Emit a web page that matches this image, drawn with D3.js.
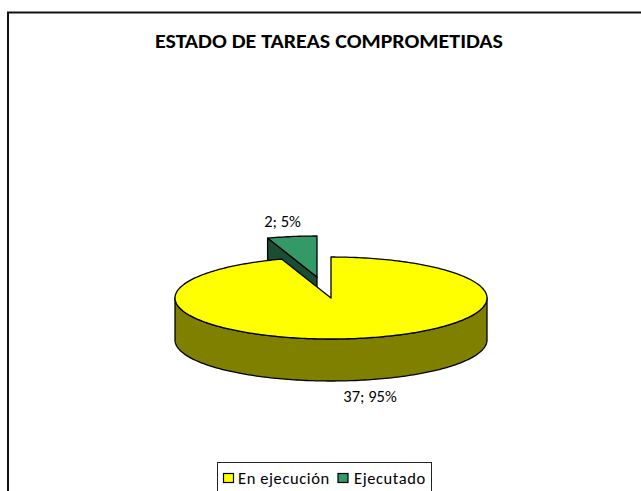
<!DOCTYPE html>
<html><head><meta charset="utf-8">
<script src="https://cdn.jsdelivr.net/npm/d3@7"></script>
<style>html,body{margin:0;padding:0;background:#fff}svg{display:block}text{font-family:Carlito,"Liberation Sans","Open Sans",sans-serif;fill:#000}</style>
</head><body><svg id="c" width="641" height="491"></svg>
<script>
const titleText = "ESTADO DE TAREAS COMPROMETIDAS";
const categories = ["En ejecución", "Ejecutado"];
const values = [37, 2];
const percents = ["95%", "5%"];
const topColors = ["#ffff00", "#339966"];
const sideColors = ["#808000", "#1a4d33"];

const W = 641, H = 491;
const cx = 331, cy = 298, rx = 156, ry = 41, depth = 42;
const explode = [[0, 0], [-14, -21]];
const svg = d3.select("#c");
svg.append("path").attr("d","M8,491V12.5H641").attr("fill","none").attr("stroke","#111").attr("stroke-width",2);
svg.append("text").attr("x",329).attr("y",48).attr("text-anchor","middle").attr("font-size",20).attr("font-weight","bold").attr("textLength",348).attr("lengthAdjust","spacingAndGlyphs").text(titleText);

const slices = d3.pie().sort(null)(values);
const xs = d3.scaleLinear().domain([-1,1]).range([-rx,rx]);
const ys = d3.scaleLinear().domain([-1,1]).range([-ry,ry]);
const pt = (a,i,dz=0)=>[cx+explode[i][0]+xs(Math.sin(a)), cy+explode[i][1]+ys(-Math.cos(a))+dz];
const arcPts = (a0,a1,i,dz=0)=>{const n=Math.max(2,Math.ceil(Math.abs(a1-a0)/0.02));return d3.range(n+1).map(k=>pt(a0+(a1-a0)*k/n,i,dz));};
const line = d3.line().curve(d3.curveLinear);
const stroke = g=>g.attr("stroke","#000").attr("stroke-width",1.3).attr("stroke-linejoin","round");
const centre = (i,dz=0)=>[cx+explode[i][0],cy+explode[i][1]+dz];

// exploded small slice first, then the large one overlaps it
[1,0].forEach(i=>{
  const s = slices[i], g = svg.append("g");
  if(i===1){
    const e = pt(s.startAngle,i);
    g.append("path").attr("d",line([centre(i),e,[e[0],e[1]+depth],centre(i,depth)])+"Z").attr("fill",sideColors[i]).call(stroke);
  } else {
    const a = arcPts(Math.PI/2,3*Math.PI/2,i), b = arcPts(3*Math.PI/2,Math.PI/2,i,depth);
    g.append("path").attr("d",line(a.concat(b))+"Z").attr("fill",sideColors[i]).call(stroke);
  }
  g.append("path").attr("d",line([centre(i),...arcPts(s.startAngle,s.endAngle,i)])+"Z").attr("fill",topColors[i]).call(stroke);
});

const lab = (i,x,y)=>svg.append("text").attr("x",x).attr("y",y).attr("text-anchor","middle").attr("font-size",16.5).text(values[i]+"; "+percents[i]);
lab(0,370,402); lab(1,282.5,227);

// legend
const lg = svg.append("g");
lg.append("rect").attr("x",217.5).attr("y",462.5).attr("width",214).attr("height",40).attr("fill","#fff").attr("stroke","#222");
const lx = d3.scaleOrdinal().domain(categories).range([223.5,338]);
categories.forEach((c,i)=>{
  lg.append("rect").attr("x",lx(c)).attr("y",473.5).attr("width",10).attr("height",9).attr("fill",topColors[i]).attr("stroke","#000").attr("stroke-width",1.2);
  lg.append("text").attr("x",lx(c)+(i?16:14.5)).attr("y",484).attr("font-size",16.5).attr("letter-spacing",0.6).text(c);
});
</script></body></html>
